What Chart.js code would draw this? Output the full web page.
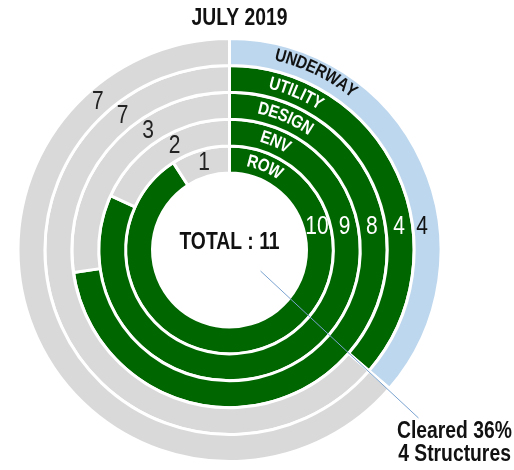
<!DOCTYPE html>
<html>
<head>
<meta charset="utf-8">
<script src="https://cdn.jsdelivr.net/npm/chart.js@4.4.1/dist/chart.umd.min.js"></script>
<style>
  html, body { margin: 0; padding: 0; background: #fff; }
  canvas { display: block; }
</style>
</head>
<body>
<canvas id="rings" width="514" height="470"></canvas>
<script>
const titleText = 'JULY 2019'
const stages = ['UNDERWAY', 'UTILITY', 'DESIGN', 'ENV', 'ROW']
const done = [4, 4, 8, 9, 10]
const remaining = [7, 7, 3, 2, 1]
const total = 11
const clearedCount = 4

const GREEN = '#006600'
const BLUE = '#bdd7ee'
const GRAY = '#d9d9d9'
const FONT = '"Liberation Sans Narrow", "Arial Narrow", "Liberation Sans", sans-serif'
const SQUEEZE = 0.84 // no narrow face installed, so squeeze the regular one
const deg = Math.PI / 180

const narrowText = (ctx, text, x, y) => {
  ctx.save()
  ctx.translate(x, y)
  ctx.scale(SQUEEZE, 1)
  ctx.fillText(text, 0, 0)
  ctx.restore()
}

// draw a word along a circle, centred on angle `mid` (radians, clockwise from 12 o'clock)
const arcText = (ctx, text, cx, cy, r, mid) => {
  const widths = [...text].map((ch) => ctx.measureText(ch).width * SQUEEZE)
  const full = widths.reduce((a, b) => a + b, 0)
  let ang = mid - full / (2 * r)
  ctx.textAlign = 'center'
  ctx.textBaseline = 'middle'
  ;[...text].forEach((ch, k) => {
    const a = ang + widths[k] / (2 * r)
    ctx.save()
    ctx.translate(cx + r * Math.sin(a), cy - r * Math.cos(a))
    ctx.rotate(a)
    ctx.scale(SQUEEZE, 1)
    ctx.fillText(ch, 0, 0)
    ctx.restore()
    ang += widths[k] / r
  })
}

const ringText = {
  id: 'ringText',
  afterDraw(chart) {
    const ctx = chart.ctx
    const n = chart.data.datasets.length
    const first = chart.getDatasetMeta(0).data[0]
    const cx = first.x
    const cy = first.y

    // line along which the grey counts sit, starting at the innermost grey segment
    const innerGrey = chart.getDatasetMeta(n - 1).data[1].getCenterPoint()
    const p0 = { x: innerGrey.x - cx, y: innerGrey.y - cy }
    const dir = { x: -Math.cos(30 * deg), y: -Math.sin(30 * deg) }

    ctx.save()
    chart.data.datasets.forEach((ds, i) => {
      const arc = chart.getDatasetMeta(i).data[0]
      const r = (arc.innerRadius + arc.outerRadius) / 2
      const onBlue = i === 0

      ctx.fillStyle = onBlue ? '#111' : '#fff'
      ctx.font = 'bold 18px ' + FONT
      arcText(ctx, stages[i], cx, cy, onBlue ? r + 2 : r, (onBlue ? 26 : 23) * deg)

      // done counts on one horizontal row right of centre
      const dy = 23
      ctx.font = '25px ' + FONT
      ctx.textAlign = 'center'
      ctx.textBaseline = 'middle'
      narrowText(ctx, String(ds.data[0]), cx + Math.sqrt(r * r - dy * dy) - (onBlue ? 4 : 0), cy - dy)

      // remaining counts along a slanted line in the grey part
      const pd = p0.x * dir.x + p0.y * dir.y
      const t = -pd + Math.sqrt(pd * pd - (p0.x * p0.x + p0.y * p0.y - r * r))
      ctx.fillStyle = '#222'
      narrowText(ctx, String(ds.data[1]), cx + p0.x + t * dir.x, cy + p0.y + t * dir.y)
    })

    ctx.fillStyle = '#111'
    ctx.font = 'bold 23px ' + FONT
    ctx.textAlign = 'center'
    ctx.textBaseline = 'middle'
    narrowText(ctx, titleText, cx + 10, 19)
    narrowText(ctx, 'TOTAL : ' + total, cx, cy - 7)

    // leader line and call-out
    ctx.strokeStyle = '#7aa3d0'
    ctx.lineWidth = 1
    ctx.beginPath()
    ctx.moveTo(cx + 31, cy + 21)
    ctx.lineTo(cx + 189, cy + 168)
    ctx.stroke()

    const pct = Math.round(clearedCount / total * 100)
    ctx.fillStyle = '#111'
    ctx.font = 'bold 23px ' + FONT
    narrowText(ctx, 'Cleared ' + pct + '%', cx + 225, cy + 182)
    narrowText(ctx, clearedCount + ' Structures', cx + 225, cy + 205)
    ctx.restore()
  }
}

const datasets = stages.map((name, i) => ({
  label: name,
  data: [done[i], remaining[i]],
  backgroundColor: [i === 0 ? BLUE : GREEN, GRAY],
  borderColor: '#ffffff',
  borderWidth: 3
}))

new Chart(document.getElementById('rings'), {
  type: 'doughnut',
  data: {
    labels: ['Done', 'Remaining'],
    datasets: datasets
  },
  options: {
    responsive: false,
    animation: false,
    cutout: '36.4%',
    layout: {
      padding: { left: 16, top: 37, right: 71, bottom: 7 }
    },
    plugins: {
      legend: { display: false },
      tooltip: { enabled: false },
      title: { display: false }
    }
  },
  plugins: [ringText]
})
</script>
</body>
</html>
